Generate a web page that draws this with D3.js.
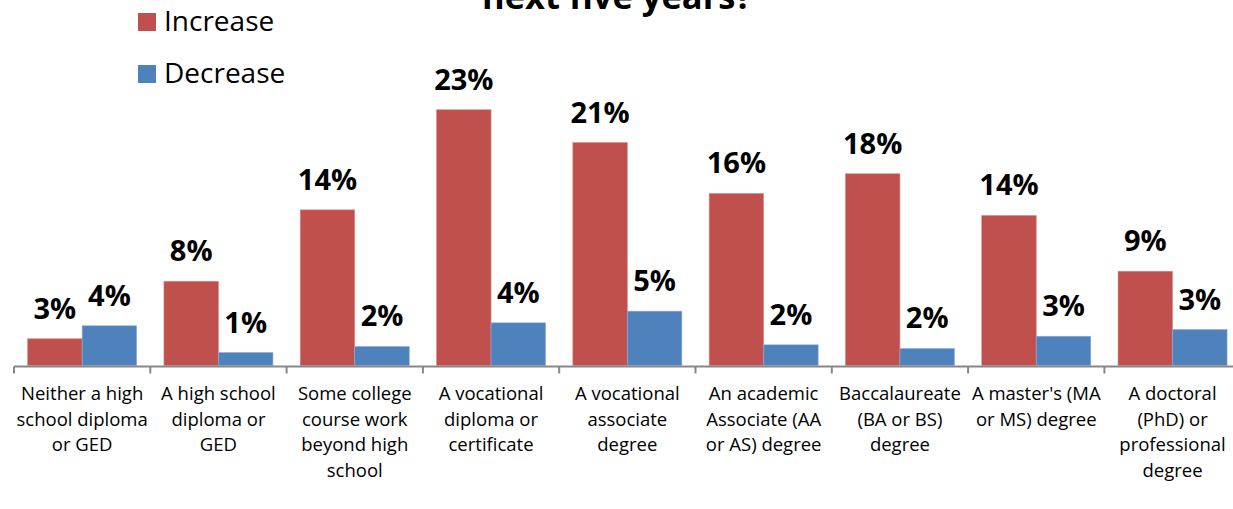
<!DOCTYPE html>
<html>
<head>
<meta charset="utf-8">
<script src="https://cdn.jsdelivr.net/npm/d3@7"></script>
<style>
  html, body { margin: 0; padding: 0; background: #fff; }
  svg { display: block; }
</style>
</head>
<body>
<svg id="chart" width="1233" height="509"></svg>
<script>
// ---- data ----
const categories = [
  "Neither a high|school diploma|or GED",
  "A high school|diploma or|GED",
  "Some college|course work|beyond high|school",
  "A vocational|diploma or|certificate",
  "A vocational|associate|degree",
  "An academic|Associate (AA|or AS) degree",
  "Baccalaureate|(BA or BS)|degree",
  "A master's (MA|or MS) degree",
  "A doctoral|(PhD) or|professional|degree"
];
const seriesNames = ["Increase", "Decrease"];
const increaseValues = [2.43, 7.66, 14.15, 23.25, 20.27, 15.64, 17.43, 13.64, 8.57];
const decreaseValues = [3.61, 1.18, 1.73, 3.88, 4.94, 1.88, 1.55, 2.66, 3.27];
const increaseLabels = ["3%", "8%", "14%", "23%", "21%", "16%", "18%", "14%", "9%"];
const decreaseLabels = ["4%", "1%", "2%", "4%", "5%", "2%", "2%", "3%", "3%"];
const titleText = "next five years?";

// ---- setup ----
const colors = ["#C0504D", "#4F81BD"];
const font = "'Open Sans', 'Noto Sans', sans-serif";
const svg = d3.select("#chart");

const baseline = 365.5;
const x = d3.scaleBand().domain(d3.range(categories.length)).range([14, 14 + 9 * 136.3]).paddingInner(0).paddingOuter(0);
const inner = d3.scaleBand().domain([0, 1]).range([0, x.bandwidth()]).paddingInner(0).paddingOuter(0.25);
const y = d3.scaleLinear().domain([0, 25]).range([baseline, baseline - 275]);

const series = [
  { name: seriesNames[0], values: increaseValues, labels: increaseLabels },
  { name: seriesNames[1], values: decreaseValues, labels: decreaseLabels }
];

// title (mostly cropped, as in the reference)
svg.append("text")
  .attr("x", 617).attr("y", 9)
  .attr("text-anchor", "middle")
  .attr("font-family", font).attr("font-weight", "bold")
  .attr("font-size", 34.5)
  .attr("fill", "#000")
  .text(titleText);

// bars
series.forEach((s, si) => {
  const g = svg.append("g");
  g.selectAll("rect").data(s.values).join("rect")
    .attr("x", (d, i) => x(i) + inner(si))
    .attr("y", d => y(d))
    .attr("width", inner.bandwidth())
    .attr("height", d => baseline - y(d))
    .attr("fill", colors[si])
    .attr("stroke", si === 0 ? "#d98c8a" : "#8fb0d8")
    .attr("stroke-width", 0.6);
  g.selectAll("text").data(s.values).join("text")
    .attr("x", (d, i) => x(i) + inner(si) + inner.bandwidth() / 2)
    .attr("y", d => y(d) - 20)
    .attr("text-anchor", "middle")
    .attr("font-family", font).attr("font-weight", "bold")
    .attr("font-size", 29)
    .attr("fill", "#000")
    .text((d, i) => s.labels[i]);
});

// axis
const axis = d3.axisBottom(x).tickSize(0).tickFormat("");
const ag = svg.append("g").attr("transform", `translate(0,${baseline + 1})`).call(axis);
ag.select(".domain").remove();
ag.append("line").attr("x1", 14).attr("x2", 1233).attr("y1", 0).attr("y2", 0)
  .attr("stroke", "#878787").attr("stroke-width", 2);
ag.selectAll(".sep").data(d3.range(categories.length + 1)).join("line")
  .attr("class", "sep")
  .attr("x1", i => 14 + i * x.step()).attr("x2", i => 14 + i * x.step())
  .attr("y1", 0).attr("y2", 7)
  .attr("stroke", "#878787").attr("stroke-width", 2);

// category labels
categories.forEach((c, i) => {
  const lines = c.split("|");
  const t = svg.append("text")
    .attr("text-anchor", "middle")
    .attr("font-family", font)
    .attr("font-size", 18.5)
    .attr("fill", "#000");
  lines.forEach((ln, k) => {
    t.append("tspan")
      .attr("x", x(i) + x.bandwidth() / 2)
      .attr("y", 400 + k * 25.6)
      .text(ln);
  });
});

// legend
const lg = svg.append("g");
series.forEach((s, si) => {
  const yy = 13 + si * 52;
  lg.append("rect").attr("x", 138).attr("y", yy).attr("width", 18).attr("height", 18).attr("fill", colors[si]);
  lg.append("text").attr("x", 164).attr("y", yy + 18)
    .attr("font-family", font).attr("font-size", 28).attr("fill", "#000")
    .text(s.name);
});
</script>
</body>
</html>
